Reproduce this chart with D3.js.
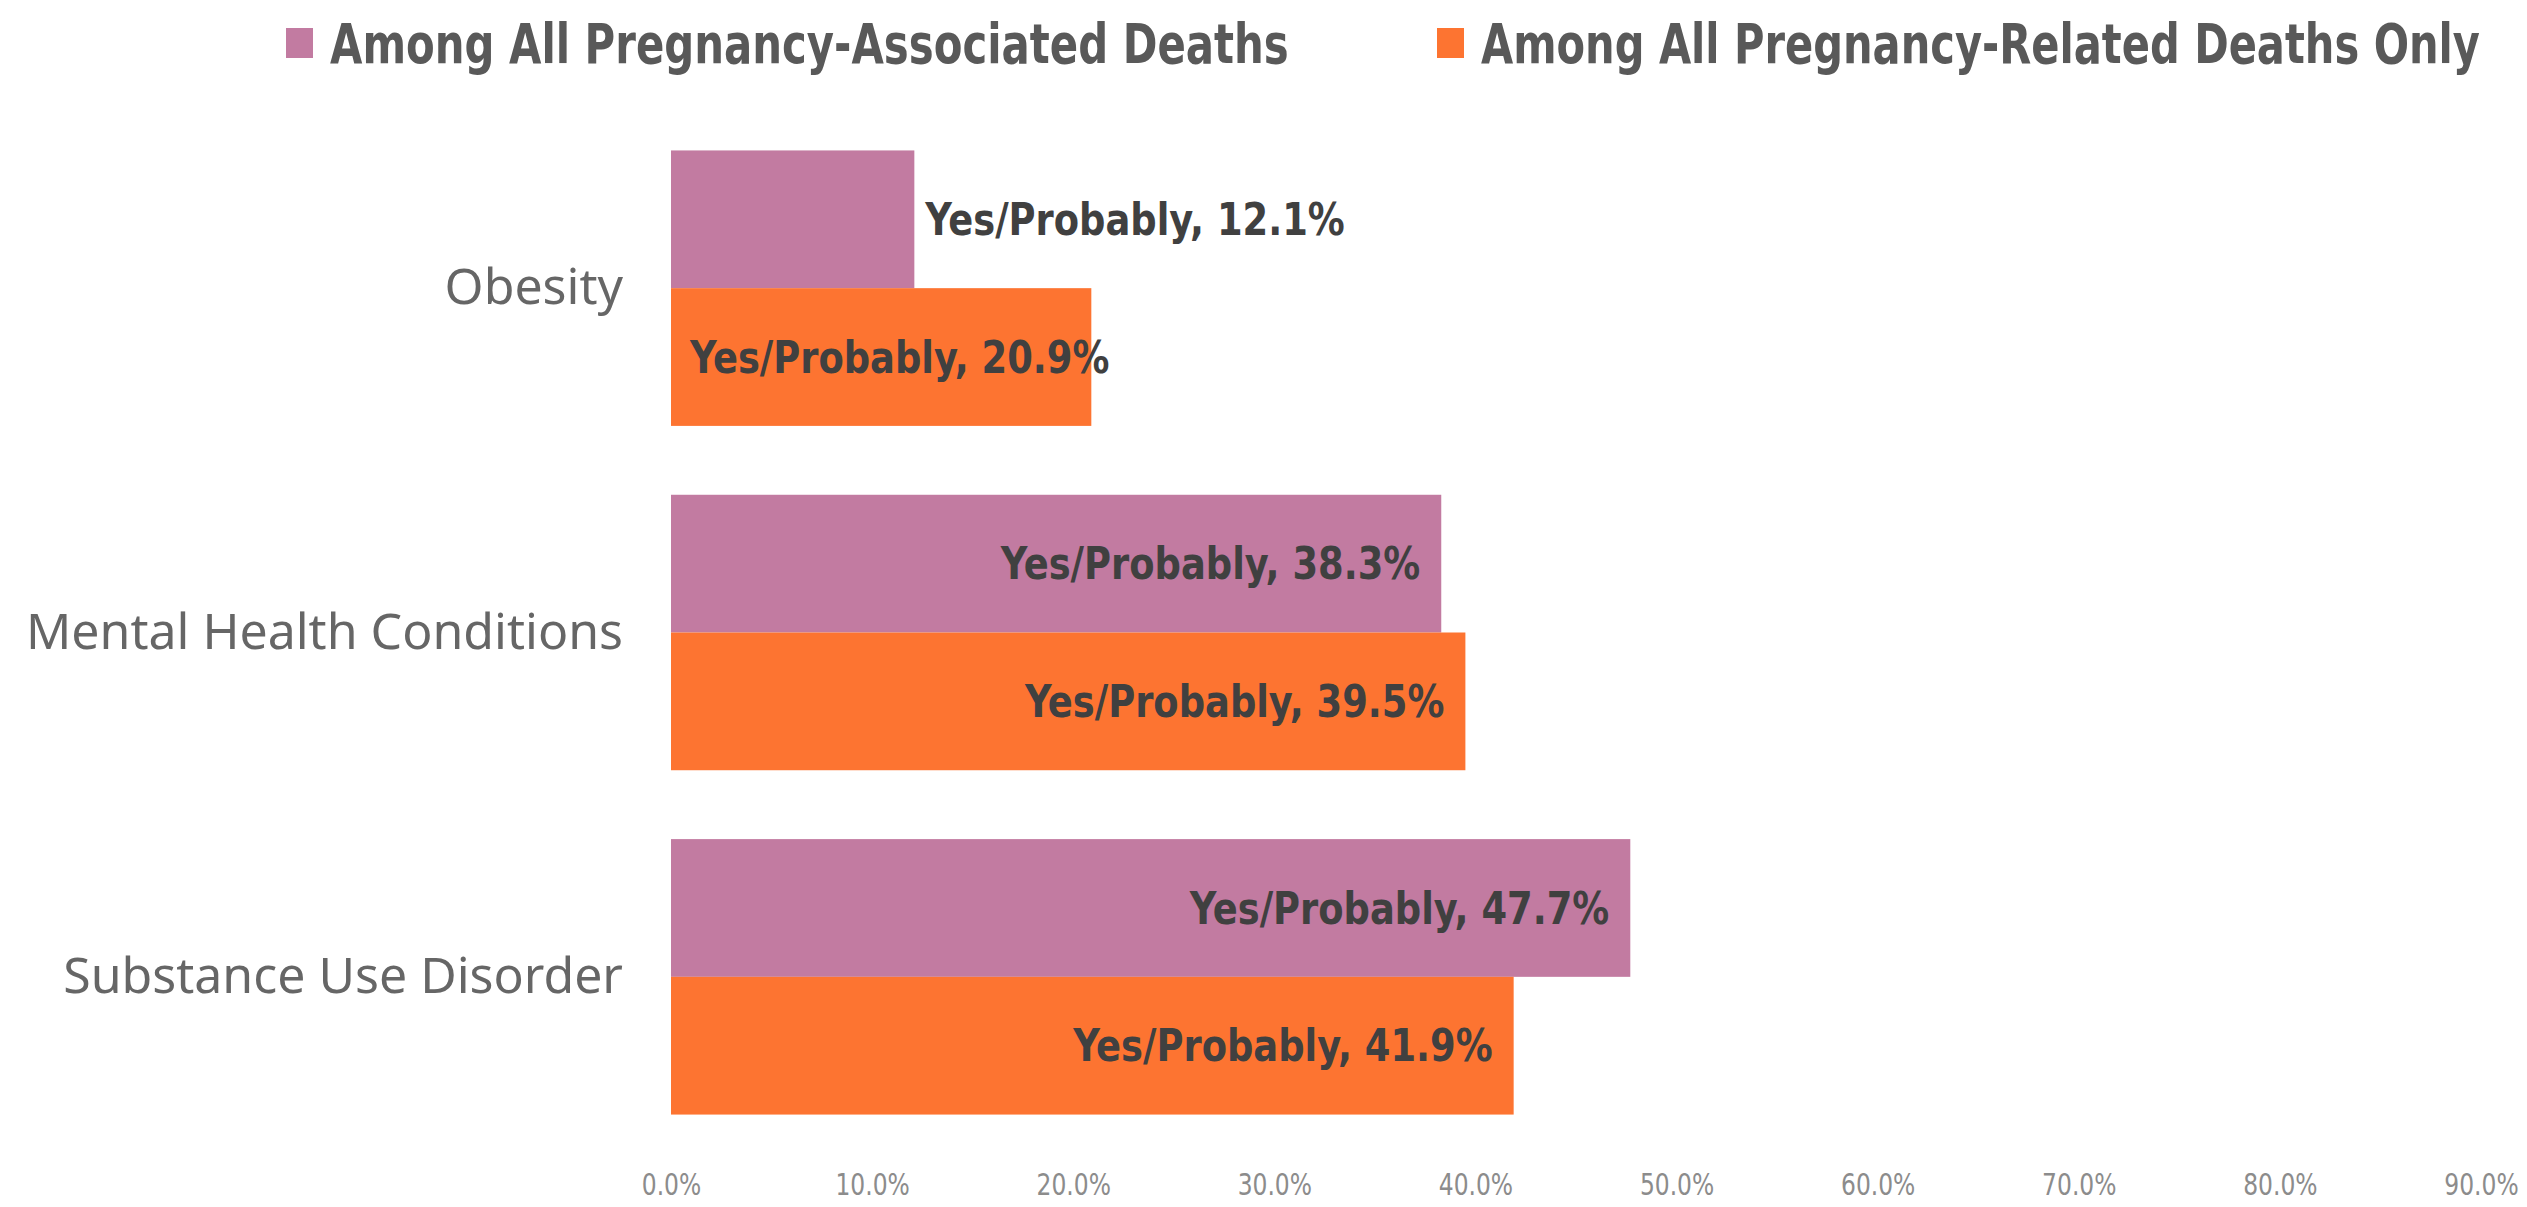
<!DOCTYPE html>
<html>
<head>
<meta charset="utf-8">
<script src="https://cdn.jsdelivr.net/npm/d3@7"></script>
<style>
  body { margin: 0; background: #fff; }
  svg { display: block; }
</style>
</head>
<body>
<div id="chart"></div>
<script>
// data
var categories = ["Obesity", "Mental Health Conditions", "Substance Use Disorder"];
var seriesNames = ["Among All Pregnancy-Associated Deaths", "Among All Pregnancy-Related Deaths Only"];
var associated = [12.1, 38.3, 47.7];
var related = [20.9, 39.5, 41.9];
var labelPrefix = "Yes/Probably, ";
var xTicks = [0, 10, 20, 30, 40, 50, 60, 70, 80, 90];

var colors = ["#c27ba1", "#fd7431"];
var svgWidth = 2527, svgHeight = 1207;

var svg = d3.select("#chart").append("svg")
  .attr("width", svgWidth).attr("height", svgHeight);

var x = d3.scaleLinear().domain([0, 90]).range([671, 2481]);
var y = d3.scaleBand().domain(categories).range([116, 1149]).paddingInner(0.2).paddingOuter(0.1);
var ySub = d3.scaleBand().domain([0, 1]).range([0, y.bandwidth()]);

var rows = categories.map(function(c, i) {
  return { cat: c, vals: [associated[i], related[i]] };
});

var condensed = "'DejaVu Sans Condensed', 'Liberation Sans Narrow', sans-serif";

// narrow a text horizontally around its own x, to mimic a condensed face
function narrow(el, f) {
  var x0 = +(el.getAttribute("x") || 0);
  el.setAttribute("transform", "translate(" + (x0 * (1 - f)) + ",0) scale(" + f + ",1)");
}

// x axis (labels only)
var xAxis = svg.append("g")
  .attr("transform", "translate(0,1173)")
  .call(d3.axisBottom(x).tickValues(xTicks).tickSize(0).tickPadding(0)
    .tickFormat(function(d) { return d3.format(".1f")(d) + "%"; }));
xAxis.select(".domain").remove();
xAxis.selectAll("text")
  .attr("font-family", condensed)
  .attr("font-size", 31)
  .attr("fill", "#8c8c8c")
  .each(function() { narrow(this, 0.84); });

// y axis (category labels)
var yAxis = svg.append("g")
  .attr("transform", "translate(623,0)")
  .call(d3.axisLeft(y).tickSize(0).tickPadding(0));
yAxis.select(".domain").remove();
yAxis.selectAll("text")
  .attr("font-family", "'Noto Sans', sans-serif")
  .attr("font-size", 50)
  .attr("fill", "#666");

// bars
var groups = svg.selectAll(".grp").data(rows).enter().append("g")
  .attr("class", "grp")
  .attr("transform", function(d) { return "translate(0," + y(d.cat) + ")"; });

groups.selectAll("rect").data(function(d) { return d.vals; }).enter().append("rect")
  .attr("x", x(0))
  .attr("y", function(d, i) { return ySub(i); })
  .attr("width", function(d) { return x(d) - x(0); })
  .attr("height", ySub.bandwidth())
  .attr("fill", function(d, i) { return colors[i]; });

// data labels
var lblSqueeze = 0.91;
groups.selectAll("text.lbl").data(function(d) { return d.vals; }).enter().append("text")
  .attr("class", "lbl")
  .attr("y", function(d, i) { return ySub(i) + ySub.bandwidth() / 2; })
  .attr("dy", "0.35em")
  .attr("font-family", condensed)
  .attr("font-weight", "bold")
  .attr("font-size", 45)
  .attr("fill", "#404040")
  .text(function(d) { return labelPrefix + d3.format(".1f")(d) + "%"; })
  .each(function(d) {
    var w = this.getComputedTextLength() * lblSqueeze;
    var barW = x(d) - x(0);
    var lx = barW < w * 0.9 ? x(d) + 11 : Math.max(x(d) - 21 - w, x(0) + 19);
    this.setAttribute("x", lx);
    narrow(this, lblSqueeze);
  });

// legend
var legend = svg.append("g").attr("transform", "translate(0,43)");
var legendX = [286, 1437];
var legendW = [959, 999];
seriesNames.forEach(function(name, i) {
  legend.append("rect")
    .attr("x", legendX[i]).attr("y", -15)
    .attr("width", 27).attr("height", 30)
    .attr("fill", colors[i]);
  var t = legend.append("text")
    .attr("x", legendX[i] + 44).attr("y", 0)
    .attr("dy", "0.36em")
    .attr("font-family", condensed)
    .attr("font-weight", "bold")
    .attr("font-size", 55)
    .attr("fill", "#595959")
    .text(name);
  narrow(t.node(), legendW[i] / t.node().getComputedTextLength());
});
</script>
</body>
</html>
